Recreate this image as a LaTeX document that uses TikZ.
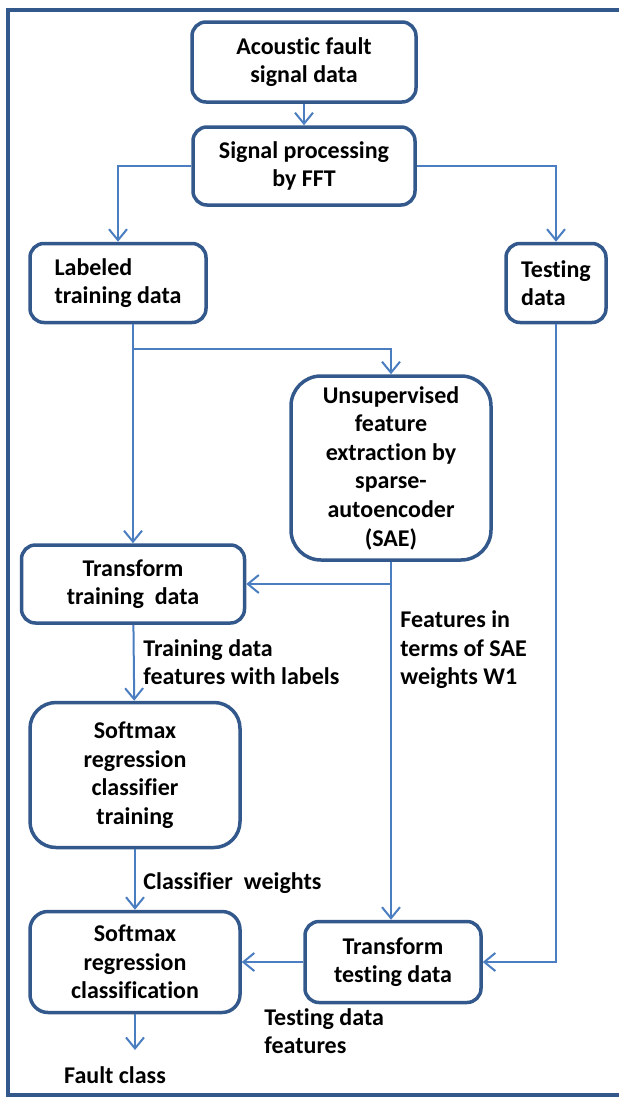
\documentclass[tikz,border=0pt]{standalone}
\usepackage{fontspec}
\setmainfont{Carlito}[Ligatures=NoCommon]
\usetikzlibrary{arrows.meta}
\definecolor{boxblue}{RGB}{50,88,140}
\definecolor{lineblue}{RGB}{74,126,192}
\begin{document}
\begin{tikzpicture}[x=1pt, y=-1pt, thick,
    main node/.style={rectangle, rounded corners=14pt, draw=boxblue, line width=3.5pt,
                      align=center, inner sep=2pt, font=\bfseries\fontsize{24}{28.6}\selectfont},
    note/.style={align=left, inner sep=0pt, anchor=west, font=\bfseries\fontsize{24}{28.6}\selectfont},
    line/.style={draw=lineblue, line width=2pt},
    arr/.style={line, -{Straight Barb[length=11pt,width=18pt]}}]

  \useasboundingbox (0,0) rectangle (619,1098);
  \clip (0,0) rectangle (619,1098);
  \draw[boxblue, line width=3.5pt] (619,10) -- (8,10) -- (8,1095) -- (619,1095);

  \node[main node, minimum width=224pt, minimum height=80pt] (acoustic) at (304,62) {Acoustic fault\\signal data};
  \node[main node, minimum width=222pt, minimum height=78pt] (fft) at (304,166) {Signal processing\\by FFT};
  \node[main node, minimum width=176pt, minimum height=79pt, align=left] (labeled) at (118,283) {Labeled\\training data};
  \node[main node, minimum width=100pt, minimum height=79pt, align=left] (testing) at (556,283) {Testing\\data};
  \node[main node, rounded corners=30pt, minimum width=200pt, minimum height=184pt] (sae) at (391,468)
       {Unsupervised\\feature\\extraction by\\sparse-\\autoencoder\\(SAE)};
  \node[main node, minimum width=223pt, minimum height=78pt] (trtrain) at (133,584) {Transform\\training~~data};
  \node[main node, rounded corners=26pt, minimum width=210pt, minimum height=145pt] (smtrain) at (135,775)
       {Softmax\\regression\\classifier\\training};
  \node[main node, rounded corners=18pt, minimum width=210pt, minimum height=101pt] (smclass) at (135,962)
       {Softmax\\regression\\classification};
  \node[main node, minimum width=176pt, minimum height=81pt] (trtest) at (393,962) {Transform\\testing data};

  \node[note] (featlbl) at (400,650) {Features in\\terms of SAE\\weights W1};
  \node[note] (trlbl) at (143,662) {Training data\\features with labels};
  \node[note] (cwlbl) at (143,883) {Classifier~~weights};
  \node[note] (tflbl) at (264,1031) {Testing data\\features};
  \node[note, anchor=center] (fault) at (115,1075) {Fault class};

  \coordinate (split) at (133,349);
  \coordinate (out) at (135,1050);

  \draw[arr] (acoustic) -- (fft);
  \draw[arr] (fft.west) -| (labeled.north);
  \draw[arr] (fft.east) -| (testing.north);
  \draw[arr] (trtrain.north |- labeled.south) -- (trtrain.north);
  \draw[arr] (split) -| (sae.north);
  \draw[arr] (sae.south) -- (sae.south |- trtest.north);
  \draw[arr] (sae.south |- trtrain.east) -- (trtrain.east);
  \draw[arr] (testing.south) |- (trtest.east);
  \draw[arr] (trtest.west) -- (smclass.east);
  \draw[arr] (trtrain) -- (smtrain);
  \draw[arr] (smtrain) -- (smclass);
  \draw[arr] (smclass.south) -- (out);

\end{tikzpicture}
\end{document}
